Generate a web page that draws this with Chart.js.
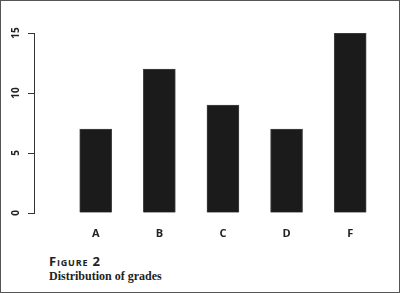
<!DOCTYPE html>
<html>
<head>
<meta charset="utf-8">
<script src="https://cdn.jsdelivr.net/npm/chart.js@4"></script>
<style>
    html, body { margin: 0; padding: 0; background: #fff; }
    #figure {
        position: relative;
        width: 398px;
        height: 291px;
        border: 1px solid #555;
        overflow: hidden;
    }
    #chartBox { position: absolute; left: -1px; top: -1px; width: 400px; height: 250px; }
    .caption { position: absolute; left: 48px; color: #222; white-space: nowrap; }
    #figNum { top: 251px; font: bold 13px "Open Sans", sans-serif; font-variant: small-caps; letter-spacing: 0.8px; }
    #figTitle { top: 268px; font: bold 12px "Liberation Serif", serif; }
</style>
</head>
<body>
<div id="figure">
    <div id="chartBox"><canvas id="gradesChart"></canvas></div>
    <div class="caption" id="figNum">Figure 2</div>
    <div class="caption" id="figTitle">Distribution of grades</div>
</div>
<script>
// Datos de la figura
const grades = ['A', 'B', 'C', 'D', 'F'];
const counts = [7, 12, 9, 7, 15];
const yTicks = [0, 5, 10, 15];

document.addEventListener('DOMContentLoaded', function() {
    const ctx = document.getElementById('gradesChart');

    new Chart(ctx, {
        type: 'bar',
        data: {
            datasets: [{
                data: grades.map((g, i) => ({ x: i + 1, y: counts[i] })),
                backgroundColor: '#1b1b1b',
                borderColor: '#444',
                borderWidth: 1,
                barThickness: 32
            }]
        },
        options: {
            responsive: true,
            maintainAspectRatio: false,
            animation: false,
            layout: { padding: { top: 33, right: 18, left: 0, bottom: 0 } },
            plugins: { legend: { display: false }, tooltip: { enabled: false } },
            scales: {
                x: {
                    type: 'linear',
                    offset: false,
                    min: 0.03,
                    max: 5.5,
                    grid: { display: false },
                    border: { display: false },
                    afterBuildTicks: scale => {
                        scale.ticks = grades.map((g, i) => ({ value: i + 1 }));
                    },
                    afterFit: scale => { scale.height = 37; },
                    ticks: {
                        padding: 6,
                        color: '#222',
                        font: { family: 'Open Sans', size: 11, weight: 'bold' },
                        callback: value => grades[value - 1]
                    }
                },
                y: {
                    min: 0,
                    max: 15,
                    afterBuildTicks: scale => {
                        scale.ticks = yTicks.map(v => ({ value: v }));
                    },
                    afterFit: scale => { scale.width = 34; },
                    grid: { drawOnChartArea: false, drawTicks: true, tickLength: 6, color: '#333', lineWidth: 1 },
                    border: { color: '#333', width: 1 },
                    ticks: {
                        minRotation: 90,
                        maxRotation: 90,
                        crossAlign: 'center',
                        padding: 6,
                        color: '#222',
                        font: { family: 'Open Sans', size: 10, weight: 'bold' }
                    }
                }
            }
        }
    });
});
</script>
</body>
</html>
